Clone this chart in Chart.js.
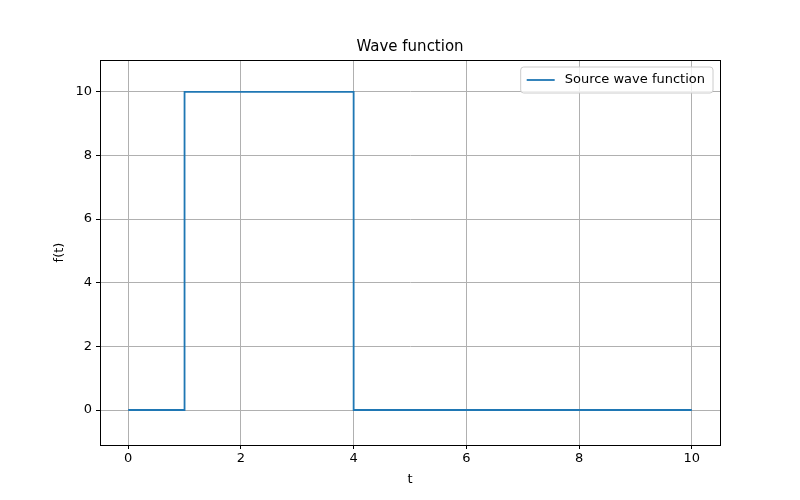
<!DOCTYPE html>
<html>
<head>
<meta charset="utf-8">
<script src="https://cdn.jsdelivr.net/npm/chart.js@4"></script>
<style>
  body { margin: 0; background: #fff; }
  #wrap { width: 800px; height: 500px; }
</style>
</head>
<body>
<div id="wrap"><canvas id="c" width="800" height="500"></canvas></div>
<script>
// ========== DATA ==========
const tValues = [0, 1, 1, 4, 4, 10];
const fValues = [0, 0, 10, 10, 0, 0];
const xTicks = [0, 2, 4, 6, 8, 10];
const yTicks = [0, 2, 4, 6, 8, 10];
const seriesLabel = 'Source wave function';
const chartTitle = 'Wave function';
const xTitle = 't';
const yTitle = 'f(t)';

const FONT = 'DejaVu Sans';
const BLUE = '#1f77b4';

// frame, titles and legend drawn like matplotlib
const decor = {
  id: 'decor',
  afterDraw(chart) {
    const { ctx, chartArea: a } = chart;
    ctx.save();
    ctx.strokeStyle = '#000';
    ctx.lineWidth = 1;
    ctx.strokeRect(a.left + 0.5, a.top + 0.5, a.right - a.left, a.bottom - a.top);

    ctx.fillStyle = '#000';
    ctx.font = '15px ' + FONT;
    ctx.textAlign = 'center';
    ctx.textBaseline = 'bottom';
    ctx.fillText(chartTitle, (a.left + a.right) / 2, a.top - 5);

    ctx.font = '13px ' + FONT;
    ctx.textBaseline = 'middle';
    ctx.fillText(xTitle, (a.left + a.right) / 2, 480);
    ctx.save();
    ctx.translate(60, (a.top + a.bottom) / 2);
    ctx.rotate(-Math.PI / 2);
    ctx.fillText(yTitle, 0, 0);
    ctx.restore();

    ctx.font = '13px ' + FONT;
    const tw = ctx.measureText(seriesLabel).width;
    const w = tw + 52, h = 26;
    const x = a.right - 7 - w, y = a.top + 7;
    ctx.fillStyle = 'rgba(255,255,255,0.8)';
    ctx.strokeStyle = '#ccc';
    ctx.beginPath();
    ctx.roundRect(x, y, w, h, 3);
    ctx.fill();
    ctx.stroke();
    ctx.strokeStyle = BLUE;
    ctx.lineWidth = 1.8;
    ctx.beginPath();
    ctx.moveTo(x + 6, y + h / 2);
    ctx.lineTo(x + 34, y + h / 2);
    ctx.stroke();
    ctx.fillStyle = '#000';
    ctx.textAlign = 'left';
    ctx.fillText(seriesLabel, x + 44, y + h / 2);
    ctx.restore();
  }
};

new Chart(document.getElementById('c'), {
  type: 'scatter',
  data: {
    datasets: [{
      label: seriesLabel,
      data: tValues.map((t, i) => ({ x: t, y: fValues[i] })),
      showLine: true,
      borderColor: BLUE,
      borderWidth: 1.8,
      pointRadius: 0,
      tension: 0
    }]
  },
  options: {
    responsive: false,
    animation: false,
    layout: { padding: { top: 60, right: 80, left: 0, bottom: 0 } },
    plugins: { legend: { display: false }, title: { display: false }, tooltip: { enabled: false } },
    scales: {
      x: {
        type: 'linear', min: -0.5, max: 10.5,
        afterBuildTicks: s => { s.ticks = xTicks.map(v => ({ value: v })); },
        afterFit: s => { s.height = 55; },
        grid: { color: '#b0b0b0', tickColor: '#000', tickLength: 4 },
        border: { color: '#000' },
        ticks: { color: '#000', font: { family: FONT, size: 13 }, padding: 2 },
        title: { display: false }
      },
      y: {
        type: 'linear', min: -1.1, max: 11,
        afterBuildTicks: s => { s.ticks = yTicks.map(v => ({ value: v })); },
        afterFit: s => { s.width = 100; },
        grid: { color: '#b0b0b0', tickColor: '#000', tickLength: 4 },
        border: { color: '#000' },
        ticks: { color: '#000', font: { family: FONT, size: 13 }, padding: 4 },
        title: { display: false }
      }
    }
  },
  plugins: [decor]
});
</script>
</body>
</html>
